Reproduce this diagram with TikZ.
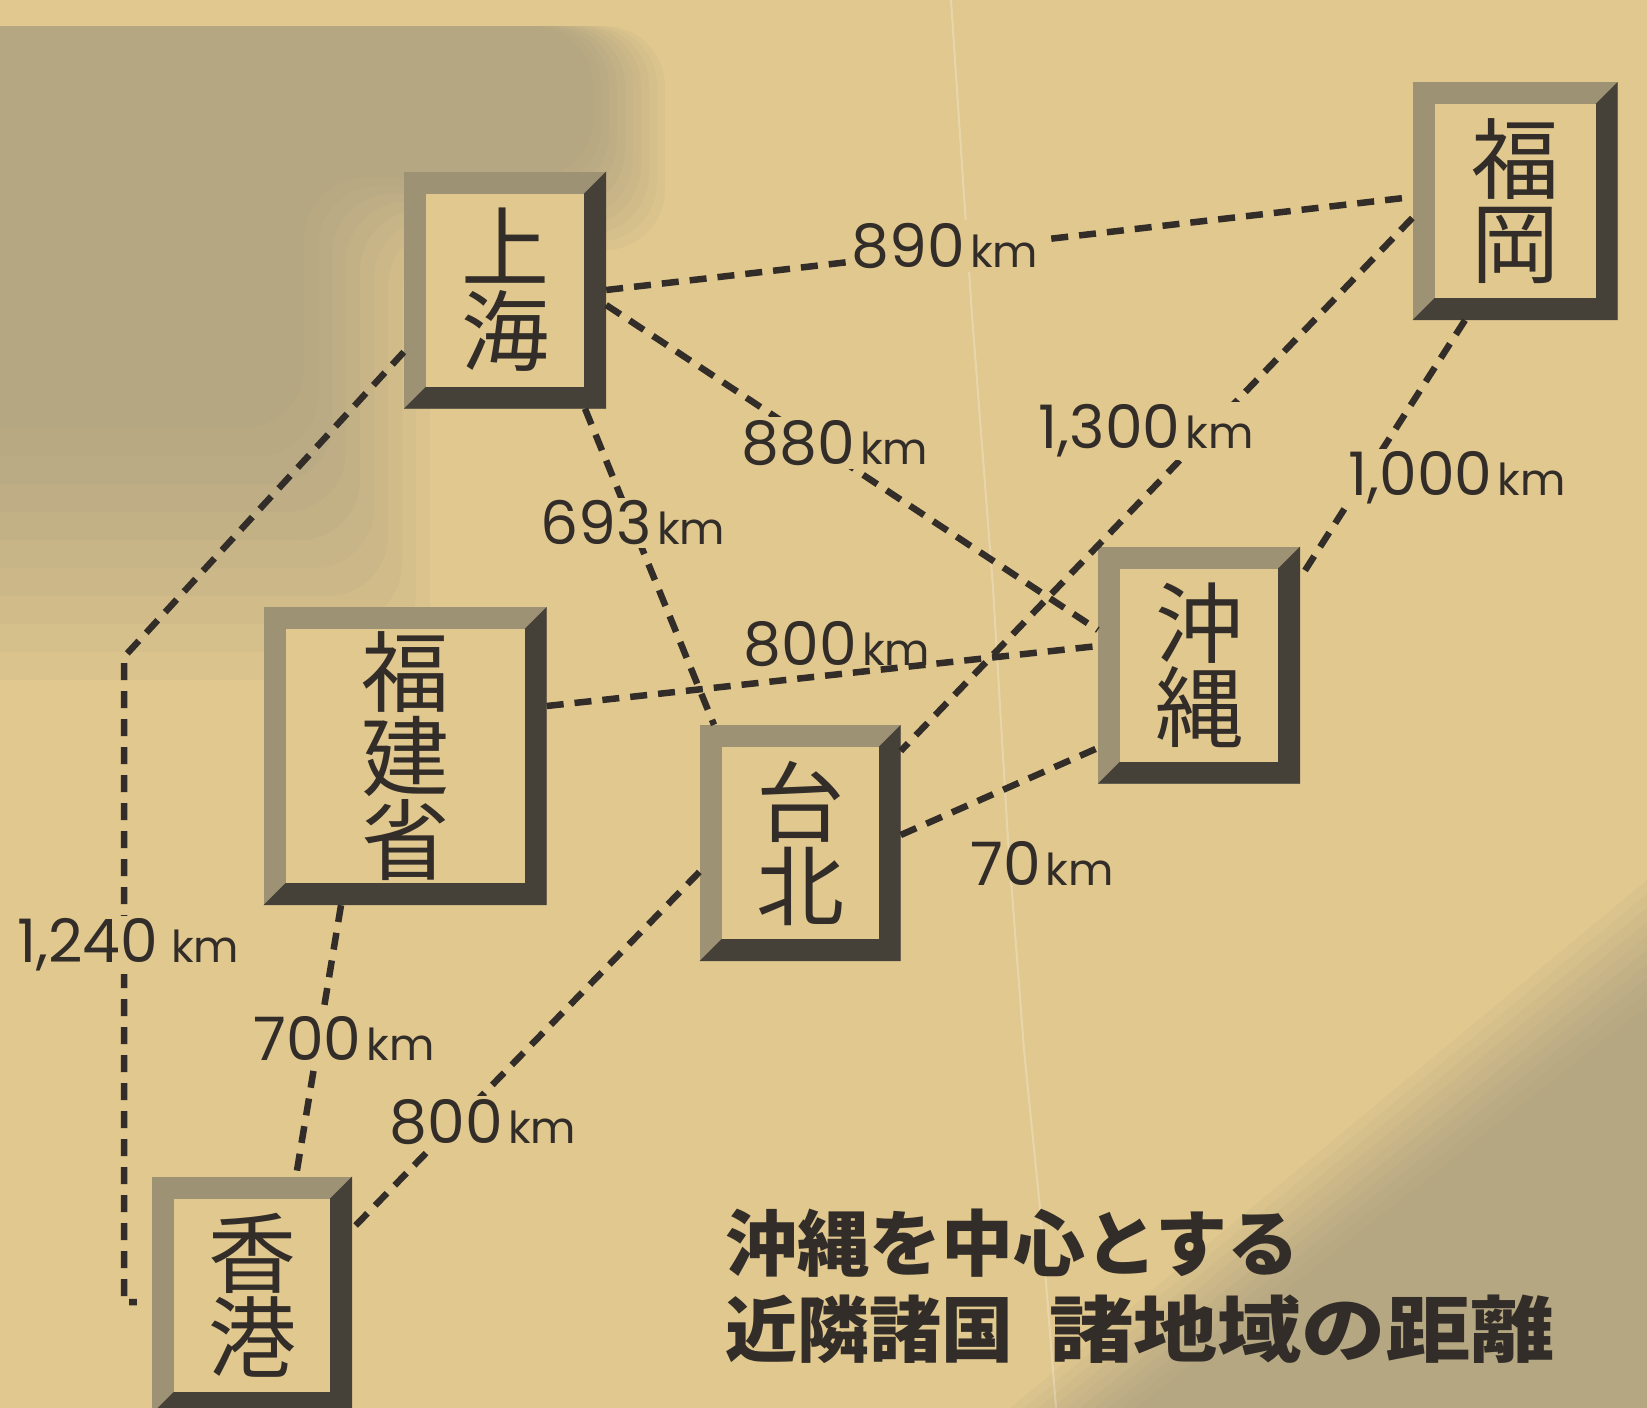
\documentclass[tikz,border=0pt]{standalone}
\usepackage{fontspec}
\usepackage{graphicx}
\newfontfamily\cjk{Noto Sans CJK JP}
\newfontfamily\labfont[Numbers=Monospaced]{Poppins}
\usetikzlibrary{calc}
\definecolor{paper}{RGB}{225,200,143}
\definecolor{ink}{RGB}{50,45,40}
\definecolor{lightb}{RGB}{158,146,116}
\definecolor{darkb}{RGB}{70,65,56}
\definecolor{halft}{RGB}{150,146,124}
\newcommand{\kmu}{\hspace{5pt}{\fontsize{44}{44}\selectfont km}}
\tikzset{
  citybox/.style={inner sep=0pt, text=ink, align=center,
    font=\cjk\fontsize{88}{84}\selectfont,
    path picture={
      \fill[lightb] (path picture bounding box.south west) rectangle (path picture bounding box.north east);
      \fill[darkb] (path picture bounding box.north east) -- (path picture bounding box.south east)
        -- (path picture bounding box.south west) -- ($(path picture bounding box.south west)+(22pt,22pt)$)
        -- ($(path picture bounding box.south east)+(-22pt,22pt)$) -- ($(path picture bounding box.north east)+(-22pt,-22pt)$) -- cycle;
      \fill[paper] ($(path picture bounding box.south west)+(22pt,22pt)$) rectangle ($(path picture bounding box.north east)+(-22pt,-22pt)$);
    }},
  conn/.style={draw=ink, line width=6.5pt, dash pattern=on 17pt off 11pt},
  dist/.style={text=ink, inner sep=3pt, font=\labfont\fontsize{60}{60}\selectfont},
  distcut/.style={dist, fill=paper},
  titletext/.style={text=ink, inner sep=0pt, anchor=west, font=\cjk\bfseries\fontsize{72}{72}\selectfont},
}
\begin{document}
\begin{tikzpicture}[x=1pt,y=-1pt]
\useasboundingbox (0,0) rectangle (1647,1408);
\clip (0,0) rectangle (1647,1408);
\fill[paper] (0,0) rectangle (1647,1408);
% halftone shading, top left (L-shaped, fading out)
\foreach \i in {0,...,9} {
  \fill[halft, opacity=0.075, rounded corners=60pt]
    (-200,26) -- (665-8*\i,26) -- (665-8*\i,250-8*\i) -- (430-14*\i,250-8*\i)
    -- (430-14*\i,680-28*\i) -- (-200,680-28*\i) -- cycle;
}
% halftone shading, bottom right
\foreach \i in {0,...,9} {
  \fill[halft, opacity=0.075] (1010+14*\i,1408) -- (1647,880+14*\i) -- (1647,1408) -- cycle;
}
% crease of the paper
\draw[white, opacity=0.25, line width=2pt] (951,0) -- (972,315) -- (993,588) -- (1008,840) -- (1024,1050) -- (1040,1208) -- (1056,1408);

% city boxes
\node[citybox, minimum width=202pt, minimum height=237pt] (sh) at (505,290) {上\\海};
\node[citybox, minimum width=205pt, minimum height=238pt] (fk) at (1515,201) {福\\岡};
\node[citybox, minimum width=283pt, minimum height=298pt] (fj) at (405,756) {福\\建\\省};
\node[citybox, minimum width=201pt, minimum height=236pt] (tp) at (800,843) {台\\北};
\node[citybox, minimum width=202pt, minimum height=237pt] (ok) at (1199,665) {沖\\縄};
\node[citybox, minimum width=200pt, minimum height=237pt] (hk) at (252,1295) {香\\港};

% corner points of the Shanghai - Hong Kong route
\coordinate (c1) at (124,657);
\coordinate (c2) at (124,1302);

% connectors
\draw[conn] (sh.east) -- ([yshift=4pt]fk.west);
\draw[conn] ([yshift=-15pt]sh.east) -- ([yshift=35pt]ok.west);
\draw[conn] ([xshift=80pt]sh.south) -- ([xshift=-86pt]tp.north);
\draw[conn] ([yshift=-62pt]sh.west) -- (c1) -- (c2) -- ([xshift=-15pt,yshift=-7pt]hk.west);
\draw[conn] ([yshift=50pt]fj.east) -- ([yshift=19pt]ok.west);
\draw[conn] ([yshift=-17pt]fk.west) -- ([yshift=92pt]tp.east);
\draw[conn] ([xshift=-50pt]fk.south) -- ([yshift=87pt]ok.east);
\draw[conn] ([yshift=8pt]tp.east) -- ([yshift=-83pt]ok.west);
\draw[conn] ([xshift=-64pt]fj.south) -- ([xshift=44pt]hk.north);
\draw[conn] ([yshift=-29pt]tp.west) -- ([yshift=66pt]hk.east);

% distance labels
\node[distcut] (l890) at (945,246) {890\kmu};
\node[distcut] (l880) at (835,443) {880\kmu};
\node[distcut] (l693) at (633,523) {693\kmu};
\node[distcut] (l1300) at (1146,431) {1,300\kmu};
\node[distcut] (l1000) at (1457,478) {1,000\kmu};
\node[dist] (l800a) at (837,644) {800\kmu};
\node[dist] (l70) at (1042,863) {70\kmu};
\node[distcut] (l1240) at (128,945) {1,240\hspace{8pt}\kmu};
\node[distcut] (l700) at (344,1038) {700\kmu};
\node[distcut] (l800b) at (483,1122) {800\kmu};

% title
\node[titletext] (t1) at (725,1243) {沖縄を中心とする};
\node[titletext] (t2) at (725,1329) {近隣諸国\hspace{36pt}\scalebox{1.17}[1]{諸地域の距離}};
\end{tikzpicture}
\end{document}
